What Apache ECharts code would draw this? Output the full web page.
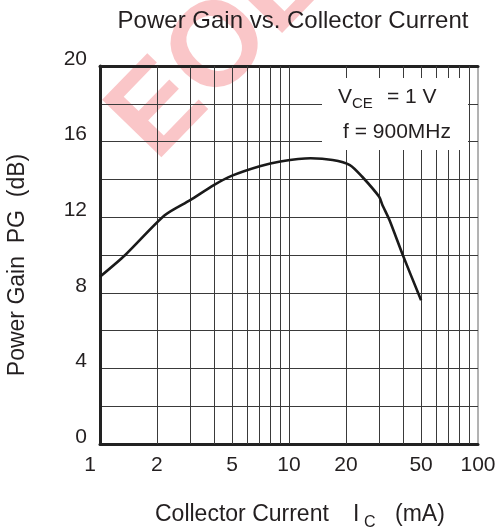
<!DOCTYPE html>
<html>
<head>
<meta charset="utf-8">
<script src="https://cdn.jsdelivr.net/npm/echarts@6/dist/echarts.min.js"></script>
<style>html,body{margin:0;padding:0;background:#fff}#c{width:499px;height:532px}</style>
</head>
<body>
<div id="c"></div>
<script>
// Data
var currentMA = [1, 1.36, 2.2, 3, 4, 5, 7, 9, 13, 17, 21, 24.4, 30, 31.2, 34, 40, 50];
var powerGainDB = [8.85, 10.0, 12.1, 12.9, 13.7, 14.2, 14.7, 14.95, 15.12, 15.03, 14.76, 14.14, 13.08, 12.65, 11.85, 10.0, 7.6];
var xTickLabels = [1, 2, 5, 10, 20, 50, 100];
var xGridValues = [2, 3, 4, 5, 6, 7, 8, 9, 10, 20, 30, 40, 50, 60, 70, 80, 90];
var yTickLabels = [0, 4, 8, 12, 16, 20];

var FONT = 'Liberation Sans, Arial, Helvetica, sans-serif';
var TXT = '#231f20';
var GRID = '#3a3a3a';

var chart = echarts.init(document.getElementById('c'), null, {renderer: 'canvas'});

var pts = currentMA.map(function (x, i) { return [x, powerGainDB[i]]; });

var option = {
  backgroundColor: '#fff',
  animation: false,
  title: {
    text: 'Power Gain vs. Collector Current',
    left: 293, top: 9, textAlign: 'center', padding: 0,
    textStyle: {fontFamily: FONT, fontSize: 24, fontWeight: 'normal', color: TXT}
  },
  grid: {left: 100, right: 21, top: 66, bottom: 88, show: true, borderColor: '#666', borderWidth: 1, backgroundColor: 'transparent'},
  xAxis: [{
    type: 'log', logBase: 10, min: 1, max: 100,
    axisLine: {show: true, onZero: false, lineStyle: {color: '#222', width: 3}},
    axisTick: {show: false},
    splitLine: {show: false},
    minorTick: {show: false}, minorSplitLine: {show: false},
    axisLabel: {
      customValues: xTickLabels,
      margin: 11,
      fontFamily: FONT, fontSize: 21, color: TXT,
      formatter: function (v) { return v === 1 ? '{a|1}' : String(v); },
      rich: {a: {fontFamily: FONT, fontSize: 21, color: TXT, padding: [0, 20, 0, 0]}}
    }
  }, {
    type: 'log', logBase: 10, min: 1, max: 100, position: 'top',
    axisLine: {show: true, onZero: false, lineStyle: {color: '#222', width: 3}},
    axisTick: {show: false}, axisLabel: {show: false}, splitLine: {show: false}
  }],
  yAxis: {
    type: 'value', min: 0, max: 20, interval: 2,
    axisLine: {show: true, onZero: false, lineStyle: {color: '#222', width: 3}},
    axisTick: {show: false},
    splitLine: {show: true, lineStyle: {color: GRID, width: 1}},
    axisLabel: {
      margin: 13, fontFamily: FONT, fontSize: 21, color: TXT,
      formatter: function (v) { return yTickLabels.indexOf(v) >= 0 ? '{a|' + v + '}' : ''; },
      rich: {a: {fontFamily: FONT, fontSize: 21, color: TXT, padding: [0, 0, 14, 0]}}
    }
  },
  series: [{
    type: 'line', data: [], silent: true, z: 1,
    markLine: {
      silent: true, symbol: ['none', 'none'], animation: false,
      label: {show: false},
      lineStyle: {type: 'solid', color: GRID, width: 1},
      data: xGridValues.map(function (v) { return {xAxis: v}; })
    }
  }, {
    type: 'line', data: pts, smooth: 0.25, showSymbol: false, z: 5,
    lineStyle: {color: '#1a1a1a', width: 2.6}
  }],
  graphic: [
    // watermark
    {type: 'text', x: 132, y: 140, rotation: 0.8, z: -1, silent: true,
     style: {text: 'EOL', fontFamily: FONT, fontSize: 120, fontWeight: 'bold', fill: 'rgba(237,28,36,0.25)', textAlign: 'left', textVerticalAlign: 'middle'}},
    // annotation box
    {type: 'rect', z: 100, shape: {x: 322, y: 78, width: 146, height: 72}, style: {fill: '#fff'}},
    {type: 'text', z: 101, x: 338, y: 97, style: {text: 'V', fontFamily: FONT, fontSize: 21, fill: TXT, textVerticalAlign: 'middle'}},
    {type: 'text', z: 101, x: 352, y: 104, style: {text: 'CE', fontFamily: FONT, fontSize: 15, fill: TXT, textVerticalAlign: 'middle'}},
    {type: 'text', z: 101, x: 387, y: 97, style: {text: '= 1 V', fontFamily: FONT, fontSize: 21, fill: TXT, textVerticalAlign: 'middle'}},
    {type: 'text', z: 101, x: 343, y: 132, style: {text: 'f = 900MHz', fontFamily: FONT, fontSize: 21, fill: TXT, textVerticalAlign: 'middle'}},
    // x axis name
    {type: 'text', z: 101, x: 155, y: 515, style: {text: 'Collector Current', fontFamily: FONT, fontSize: 23, fill: TXT, textVerticalAlign: 'middle'}},
    {type: 'text', z: 101, x: 353, y: 515, style: {text: 'I', fontFamily: FONT, fontSize: 23, fill: TXT, textVerticalAlign: 'middle'}},
    {type: 'text', z: 101, x: 364, y: 523, style: {text: 'C', fontFamily: FONT, fontSize: 16, fill: TXT, textVerticalAlign: 'middle'}},
    {type: 'text', z: 101, x: 395, y: 515, style: {text: '(mA)', fontFamily: FONT, fontSize: 23, fill: TXT, textVerticalAlign: 'middle'}},
    // y axis name
    {type: 'text', z: 101, x: 18, y: 265, rotation: Math.PI / 2,
     style: {text: 'Power Gain  PG  (dB)', fontFamily: FONT, fontSize: 23, fill: TXT, textAlign: 'center', textVerticalAlign: 'middle'}}
  ]
};
chart.setOption(option);
</script>
</body>
</html>
